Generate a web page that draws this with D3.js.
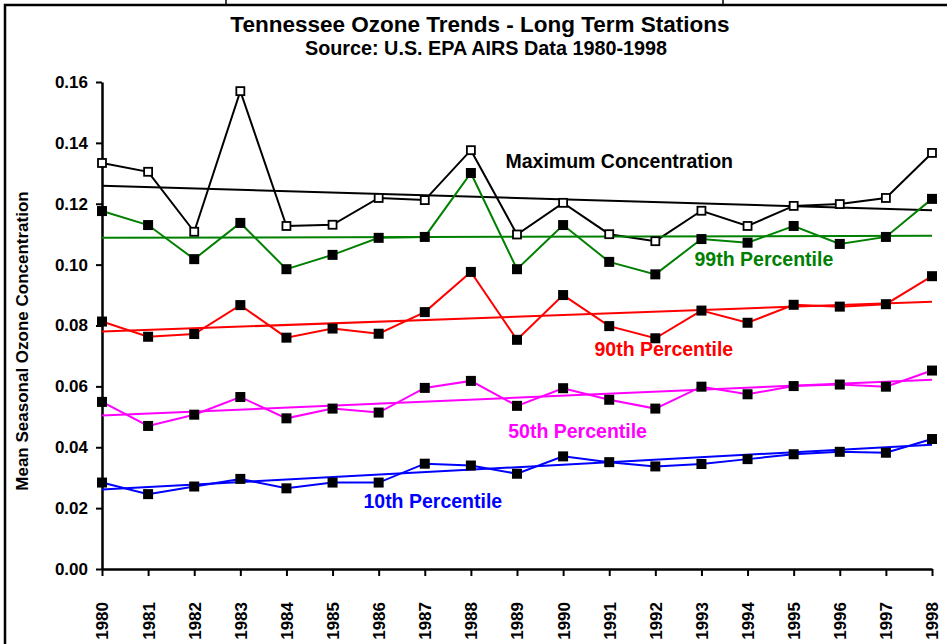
<!DOCTYPE html>
<html>
<head>
<meta charset="utf-8">
<script src="https://cdn.jsdelivr.net/npm/d3@7"></script>
<style>
  body { margin: 0; background: #fff; }
  svg { display: block; font-family: "Liberation Sans", Arial, sans-serif; }
</style>
</head>
<body>
<div id="chart-area"></div>
<script>
// data
const years = [1980, 1981, 1982, 1983, 1984, 1985, 1986, 1987, 1988, 1989,
               1990, 1991, 1992, 1993, 1994, 1995, 1996, 1997, 1998]

const maxConc = [0.1334, 0.1305, 0.1108, 0.1570, 0.1127, 0.1131, 0.1219, 0.1212, 0.1376, 0.1099,
                 0.1203, 0.1100, 0.1077, 0.1177, 0.1127, 0.1193, 0.1199, 0.1219, 0.1367]
const p99 = [0.1176, 0.1130, 0.1018, 0.1137, 0.0985, 0.1032, 0.1088, 0.1091, 0.1301, 0.0985,
             0.1130, 0.1009, 0.0968, 0.1084, 0.1072, 0.1127, 0.1068, 0.1091, 0.1216]
const p90 = [0.0813, 0.0763, 0.0772, 0.0867, 0.0760, 0.0790, 0.0773, 0.0844, 0.0976, 0.0753,
             0.0900, 0.0798, 0.0758, 0.0849, 0.0809, 0.0868, 0.0862, 0.0870, 0.0962]
const p50 = [0.0549, 0.0470, 0.0507, 0.0565, 0.0495, 0.0527, 0.0514, 0.0595, 0.0618, 0.0536,
             0.0594, 0.0556, 0.0527, 0.0599, 0.0574, 0.0601, 0.0606, 0.0599, 0.0652]
const p10 = [0.0284, 0.0246, 0.0271, 0.0296, 0.0265, 0.0284, 0.0284, 0.0346, 0.0340, 0.0313,
             0.0370, 0.0351, 0.0337, 0.0345, 0.0361, 0.0377, 0.0385, 0.0382, 0.0427]

// linear trend end points (1980, 1998)
const trendYears = [1980, 1998]
const maxTrend = [0.1259, 0.1179]
const p99Trend = [0.1088, 0.1095]
const p90Trend = [0.0780, 0.0878]
const p50Trend = [0.0504, 0.0622]
const p10Trend = [0.0261, 0.0408]

const yTicks = [0, 0.02, 0.04, 0.06, 0.08, 0.10, 0.12, 0.14, 0.16]

const series = [
  { name: "Maximum Concentration", values: maxConc, trend: maxTrend, color: "#000000", open: true,
    labelAt: [1988.75, 0.1340] },
  { name: "99th Percentile", values: p99, trend: p99Trend, color: "#008000", open: false,
    labelAt: [1992.85, 0.1019] },
  { name: "90th Percentile", values: p90, trend: p90Trend, color: "#ff0000", open: false,
    labelAt: [1990.68, 0.0723] },
  { name: "50th Percentile", values: p50, trend: p50Trend, color: "#ff00ff", open: false,
    labelAt: [1988.81, 0.0454] },
  { name: "10th Percentile", values: p10, trend: p10Trend, color: "#0000ff", open: false,
    labelAt: [1985.67, 0.0224] }
]

function drawChart() {
  const svgWidth = 947
  const svgHeight = 644
  const margin = { left: 102, right: 15, top: 82, bottom: 75 }
  const chartWidth = svgWidth - margin.left - margin.right
  const chartHeight = svgHeight - margin.top - margin.bottom

  const svg = d3.select("#chart-area")
    .append("svg")
    .attr("width", svgWidth)
    .attr("height", svgHeight)

  // frame pieces from the page around the chart
  svg.append("path")
    .attr("d", "M5,644 V5 H947")
    .attr("fill", "none")
    .attr("stroke", "#000")
    .attr("stroke-width", 2.5)
  svg.selectAll(".cell-edge")
    .data([226, 723])
    .join("line")
    .attr("x1", d => d).attr("x2", d => d)
    .attr("y1", 0).attr("y2", 5)
    .attr("stroke", "#000")
    .attr("stroke-width", 1.5)

  // titles
  svg.append("text")
    .attr("x", 480)
    .attr("y", 32)
    .attr("text-anchor", "middle")
    .attr("font-weight", "bold")
    .attr("font-size", 22.5)
    .text("Tennessee Ozone Trends - Long Term Stations")
  svg.append("text")
    .attr("x", 486)
    .attr("y", 55)
    .attr("text-anchor", "middle")
    .attr("font-weight", "bold")
    .attr("font-size", 19.8)
    .text("Source: U.S. EPA AIRS Data 1980-1998")

  const chart = svg.append("g")
    .attr("transform", `translate(${margin.left},${margin.top})`)

  const xScale = d3.scaleLinear()
    .domain([1980, 1998])
    .range([0, chartWidth])

  const yScale = d3.scaleLinear()
    .domain([0, 0.16])
    .range([chartHeight, 0])

  // axes
  const yAxis = chart.append("g")
    .call(d3.axisLeft(yScale).tickValues(yTicks).tickFormat(d3.format(".2f")).tickSize(6).tickSizeOuter(0))
  const xAxis = chart.append("g")
    .attr("transform", `translate(0,${chartHeight})`)
    .call(d3.axisBottom(xScale).tickValues(years).tickFormat(d3.format("d")).tickSize(7).tickSizeOuter(0))

  ;[yAxis, xAxis].forEach(g => {
    g.select(".domain").attr("stroke", "#000").attr("stroke-width", 2.5)
    g.selectAll(".tick line").attr("stroke", "#000").attr("stroke-width", 2)
    g.selectAll("text")
      .attr("fill", "#000")
      .attr("font-size", 17)
      .attr("font-weight", "bold")
      .attr("font-family", "Liberation Sans, Arial, sans-serif")
  })
  yAxis.selectAll(".tick text").attr("x", -14)
  xAxis.selectAll(".tick text")
    .attr("transform", "rotate(-90)")
    .attr("text-anchor", "end")
    .attr("dy", "0.35em")
    .attr("x", -33)
    .attr("y", 0)

  svg.append("text")
    .attr("transform", "translate(28,341) rotate(-90)")
    .attr("text-anchor", "middle")
    .attr("font-weight", "bold")
    .attr("font-size", 17)
    .text("Mean Seasonal Ozone Concentration")

  const line = d3.line()
    .x((d, i) => xScale(years[i]))
    .y(d => yScale(d))
  const trendLine = d3.line()
    .x((d, i) => xScale(trendYears[i]))
    .y(d => yScale(d))

  const lines = chart.append("g")
  series.forEach(s => {
    lines.append("path")
      .attr("d", trendLine(s.trend))
      .attr("fill", "none")
      .attr("stroke", s.color)
      .attr("stroke-width", 2)
    lines.append("path")
      .attr("d", line(s.values))
      .attr("fill", "none")
      .attr("stroke", s.color)
      .attr("stroke-width", 2)
  })

  const markers = chart.append("g")
  series.forEach(s => {
    const size = s.open ? 8 : 10
    markers.selectAll(null)
      .data(s.values)
      .join("rect")
      .attr("x", (d, i) => xScale(years[i]) - size / 2)
      .attr("y", d => yScale(d) - size / 2)
      .attr("width", size)
      .attr("height", size)
      .attr("fill", s.open ? "#fff" : "#000")
      .attr("stroke", "#000")
      .attr("stroke-width", s.open ? 1.8 : 0)
  })

  // series labels
  chart.append("g")
    .selectAll("text")
    .data(series)
    .join("text")
    .attr("x", d => xScale(d.labelAt[0]))
    .attr("y", d => yScale(d.labelAt[1]))
    .attr("dy", "0.35em")
    .attr("fill", d => d.color)
    .attr("font-weight", "bold")
    .attr("font-size", 19.5)
    .text(d => d.name)
}

drawChart()
</script>
</body>
</html>
